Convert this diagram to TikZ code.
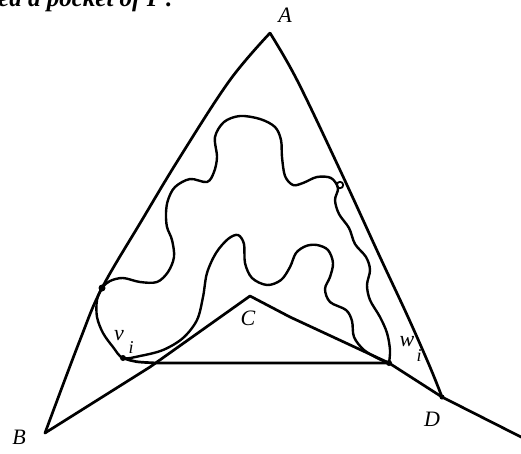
\documentclass[tikz,border=0pt]{standalone}
\usepackage{fontspec}
\setmainfont{Liberation Serif}
\begin{document}
\begin{tikzpicture}[x=1pt,y=-1pt,
  edge/.style={line width=2.7pt,line cap=round,line join=round},
  blob/.style={line width=2.4pt,line cap=round,line join=round},
  lab/.style={font=\itshape\fontsize{22}{22}\selectfont,inner sep=0pt},
  sublab/.style={font=\itshape\fontsize{18}{18}\selectfont,inner sep=0pt},
  dotmark/.style={circle,fill,inner sep=0pt,minimum size=7pt}]
\useasboundingbox (0,0) rectangle (521,453);
\clip (0,0) rectangle (521,453);
% heading fragment
\node[anchor=base west,inner sep=0pt,font=\bfseries\itshape\fontsize{25}{25}\selectfont] (head) at (-2,6) {ed a pocket of \textit{P}\,.};
% vertices
\coordinate (A) at (270,33);
\coordinate (B) at (45,433);
\coordinate (C) at (250,296);
\coordinate (D) at (442,397);
\coordinate (V) at (123,358);
\coordinate (W) at (389,363);
\coordinate (P1) at (102,288);
\coordinate (Q) at (340,185);
\coordinate (E) at (525,439);
% triangle left edge (slightly bowed)
\draw[edge] plot[smooth,tension=0.6] coordinates {(A) (230,80) (180,157) (142,220) (P1) (80,340) (B)};
% right edge
\draw[edge] plot[smooth,tension=0.6] coordinates {(A) (297,80) (340,170) (380,257) (408,317) (430,367) (D)};
% B - C - W - D - beyond
\draw[edge] (B) -- (150,367) -- (C) -- (290,317) -- (W) -- (D) -- (E);
% lid v_i w_i
\draw[edge] (V) .. controls (135,362) .. (157,363) -- (W);
% the polygon boundary
\draw[blob] plot[smooth,tension=0.55] coordinates {
 (W) (390,350) (387,333) (380,317) (370,300) (367,285) (370,270) (366,257)
 (355,244) (349,228) (339,214) (335,200) (338,188) (331,178) (317,177)
 (303,183) (293,185) (285,176) (282,157) (281,140) (275,127) (260,119)
 (240,116) (224,122) (215,137) (217,157) (214,172) (207,182) (190,179)
 (175,187) (168,200) (166,213) (167,227) (172,240) (174,257) (168,272)
 (157,282) (140,282) (123,278) (110,281) (P1) (97,300) (97,317) (103,333)
 (113,347) (V) (140,356) (163,350) (183,338) (197,320) (203,297) (207,273)
 (216,253) (228,239) (238,235) (244,244) (245,263) (252,278) (267,285)
 (281,280) (290,267) (296,253) (306,246) (317,245) (328,250) (333,263)
 (330,277) (325,289) (330,302) (346,310) (352,321) (354,337) (364,350)
 (379,359) (W)};
% marks
\node[dotmark] at (P1) {};
\node[dotmark,minimum size=6pt] at (V) {};
\node[dotmark,minimum size=6pt] at (W) {};
\node[dotmark,minimum size=5pt] at (D) {};
\draw[line width=1.8pt] (Q) circle (3.2pt);
% labels
\node[lab] (la) at (285,15) {A};
\node[lab] (lb) at (19,437) {B};
\node[lab] (lc) at (248,318) {C};
\node[lab] (ld) at (432,419) {D};
\node[lab] (lv) at (119,336) {v};
\node[sublab] (lvi) at (131,348) {i};
\node[lab] (lw) at (407,342) {w};
\node[sublab] (lwi) at (419,356) {i};
\end{tikzpicture}
\end{document}
